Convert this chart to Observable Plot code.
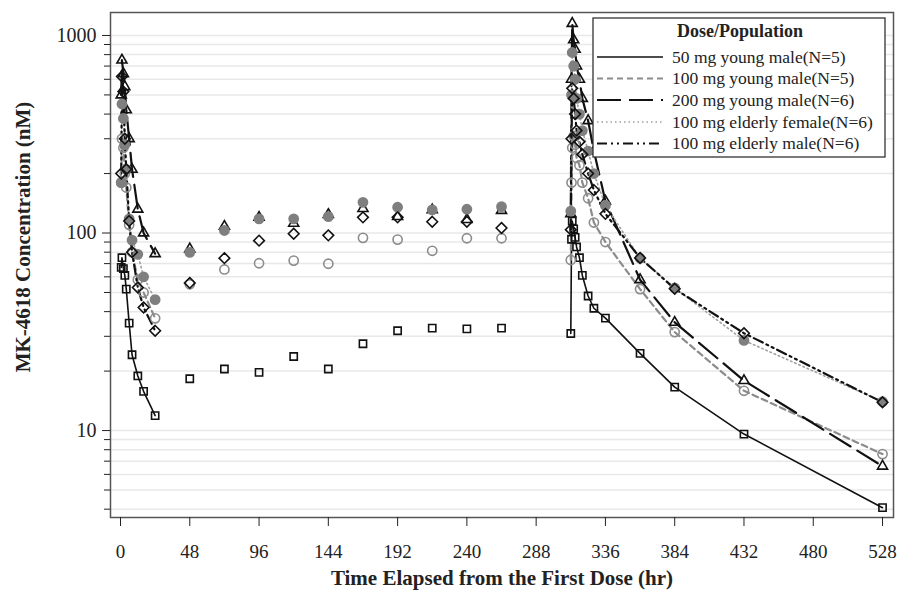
<!DOCTYPE html>
<html><head><meta charset="utf-8">
<script src="https://cdn.jsdelivr.net/npm/d3@7"></script>
<script src="https://cdn.jsdelivr.net/npm/@observablehq/plot@0.6"></script>
<style>
body{margin:0;background:#fff;}
#chart{width:898px;height:592px;}
</style></head><body><div id="chart"></div>
<script>
// ---- data ----
const seriesNames = ["50 mg young male(N=5)", "100 mg young male(N=5)", "200 mg young male(N=6)", "100 mg elderly female(N=6)", "100 mg elderly male(N=6)"];
const timesDose1 = [0.5, 1, 2, 3, 4, 6, 8, 12, 16, 24];
const timesTrough = [48, 72, 96, 120, 144, 168, 192, 216, 240, 264];
const timesDose2 = [312, 312.5, 313, 314, 315, 316, 318, 320, 324, 328, 336, 360, 384, 432, 528];

const ym50Dose1 = [67, 75, 66, 61, 52, 35, 24.2, 18.9, 15.8, 11.9];
const ym50Trough = [18.3, 20.5, 19.7, 23.7, 20.5, 27.5, 32.0, 33.0, 32.7, 33.0];
const ym50Dose2 = [31, 93, 115, 105, 95, 85, 75, 61, 48, 41.6, 37.1, 24.6, 16.6, 9.6, 4.07];

const ym100Dose1 = [180, 300, 270, 200, 170, 110, 80, 58, 50, 37];
const ym100Trough = [55, 65.4, 70.3, 72.5, 69.9, 94.5, 92.6, 81.3, 94.1, 94.1];
const ym100Dose2 = [73, 180, 270, 310, 280, 240, 220, 180, 150, 113, 90, 52, 31.5, 15.9, 7.6];

const ym200Dose1 = [500, 750, 640, 550, 420, 300, 210, 132, 100, 78.6];
const ym200Trough = [83, 108, 120, 112, 124, 133, 121, 131, 117, 130];
const ym200Dose2 = [125, 600, 1150, 950, 850, 700, 600, 480, 370, 260, 145, 58, 35.3, 17.9, 6.6];

const ef100Dose1 = [180, 450, 380, 280, 210, 118, 92, 78, 60, 46];
const ef100Trough = [79.8, 103, 118, 118, 121, 143, 135, 131, 132, 136];
const ef100Dose2 = [129, 500, 820, 700, 600, 480, 400, 330, 260, 200, 138, 74.5, 52.7, 28.6, 14];

const em100Dose1 = [200, 620, 520, 300, 210, 115, 80, 53, 42, 32];
const em100Trough = [55.9, 74.6, 91.5, 99.2, 97.3, 120, 120, 114, 114, 106];
const em100Dose2 = [104, 300, 540, 480, 400, 330, 290, 250, 200, 165, 125, 74.8, 52.2, 31.1, 13.9];

const xTicks = [0, 48, 96, 144, 192, 240, 288, 336, 384, 432, 480, 528];
const yMajorTicks = [10, 100, 1000];
const yMinorTicks = [4,5,6,7,8,9,20,30,40,50,60,70,80,90,200,300,400,500,600,700,800,900];

// ---- styles ----
const styles = [
  {stroke: "#111", dash: null, width: 1.6, symbol: "square2", fill: "none", mstroke: "#111", r: 4.6},
  {stroke: "#8c8c8c", dash: "6,4", width: 2.2, symbol: "circle", fill: "none", mstroke: "#8c8c8c", r: 4.6},
  {stroke: "#111", dash: "24,8", width: 2.2, symbol: "triangle2", fill: "none", mstroke: "#111", r: 4.8},
  {stroke: "#a0a0a0", dash: "1.5,3", width: 1.6, symbol: "circle", fill: "#7f7f7f", mstroke: "#7f7f7f", r: 4.6},
  {stroke: "#111", dash: "10,4,2,4,2,4", width: 2.2, symbol: "diamond2", fill: "none", mstroke: "#111", r: 4.8}
];

const seriesData = [
  [ym50Dose1, ym50Trough, ym50Dose2],
  [ym100Dose1, ym100Trough, ym100Dose2],
  [ym200Dose1, ym200Trough, ym200Dose2],
  [ef100Dose1, ef100Trough, ef100Dose2],
  [em100Dose1, em100Trough, em100Dose2]
];

const rows = [];
seriesData.forEach((arrs, i) => {
  const [d1, tr, d2] = arrs;
  timesDose1.forEach((t, j) => rows.push({s: i, phase: "d1", t, c: d1[j]}));
  timesTrough.forEach((t, j) => rows.push({s: i, phase: "tr", t, c: tr[j]}));
  timesDose2.forEach((t, j) => rows.push({s: i, phase: "d2", t, c: d2[j]}));
});

const gridVals = [...yMinorTicks, ...yMajorTicks];
const marks = [
  Plot.ruleY(gridVals, {stroke: "#e8e8e8", strokeWidth: 1.5}),
];
styles.forEach((st, i) => {
  const lineData = rows.filter(d => d.s === i && d.phase !== "tr");
  marks.push(Plot.line(lineData, {x: "t", y: "c", z: "phase", stroke: st.stroke, strokeWidth: st.width, strokeDasharray: st.dash, curve: "linear"}));
});
styles.forEach((st, i) => {
  const pts = rows.filter(d => d.s === i);
  marks.push(Plot.dot(pts, {x: "t", y: "c", symbol: () => st.symbol, fill: st.fill, stroke: st.mstroke, strokeWidth: 1.6, r: st.r}));
});
marks.push(Plot.frame({stroke: "#555", strokeWidth: 1.5}));
marks.push(Plot.axisX({ticks: xTicks, tickSize: 9, tickPadding: 18, fontSize: 19, label: null, tickFormat: d => String(d)}));
marks.push(Plot.axisY({ticks: yMajorTicks, tickSize: 8, tickPadding: 6, fontSize: 20, label: null, tickFormat: d => String(d)}));
marks.push(Plot.axisY({ticks: yMinorTicks, tickSize: 6, label: null, tickFormat: () => ""}));

const plot = Plot.plot({
  width: 898, height: 592,
  marginLeft: 110, marginRight: 5, marginTop: 12, marginBottom: 75,
  style: {fontFamily: "'Liberation Serif', 'Times New Roman', serif", background: "white", color: "#222"},
  x: {domain: [-6.93, 535.6]},
  y: {type: "log", domain: [3.63, 1307]},
  symbol: {type: "identity"},
  marks
});
document.getElementById("chart").appendChild(plot);

// ---- titles and legend ----
const svg = d3.select(plot);
const font = "'Liberation Serif', 'Times New Roman', serif";
svg.append("text").attr("x", 502).attr("y", 585).attr("text-anchor", "middle")
  .attr("font-family", font).attr("font-weight", "bold").attr("font-size", 21).attr("fill", "#222")
  .text("Time Elapsed from the First Dose (hr)");
svg.append("text").attr("transform", "translate(30,237) rotate(-90)").attr("text-anchor", "middle")
  .attr("font-family", font).attr("font-weight", "bold").attr("font-size", 21).attr("fill", "#222")
  .text("MK-4618 Concentration (nM)");

const lg = svg.append("g");
lg.append("rect").attr("x", 593).attr("y", 18).attr("width", 292).attr("height", 139)
  .attr("fill", "white").attr("stroke", "#333").attr("stroke-width", 1.3);
lg.append("text").attr("x", 740).attr("y", 37).attr("text-anchor", "middle")
  .attr("font-family", font).attr("font-weight", "bold").attr("font-size", 18).attr("fill", "#222")
  .text("Dose/Population");
const rowY = [57, 78.5, 100, 122, 143.5];
seriesNames.forEach((name, i) => {
  const st = styles[i];
  const ln = lg.append("line").attr("x1", 597).attr("x2", 663).attr("y1", rowY[i]).attr("y2", rowY[i])
    .attr("stroke", st.stroke).attr("stroke-width", st.width);
  if (st.dash) ln.attr("stroke-dasharray", st.dash);
  lg.append("text").attr("x", 672).attr("y", rowY[i] + 5.5).attr("text-anchor", "start")
    .attr("font-family", font).attr("font-size", 17.5).attr("fill", "#222").text(name);
});
</script></body></html>
